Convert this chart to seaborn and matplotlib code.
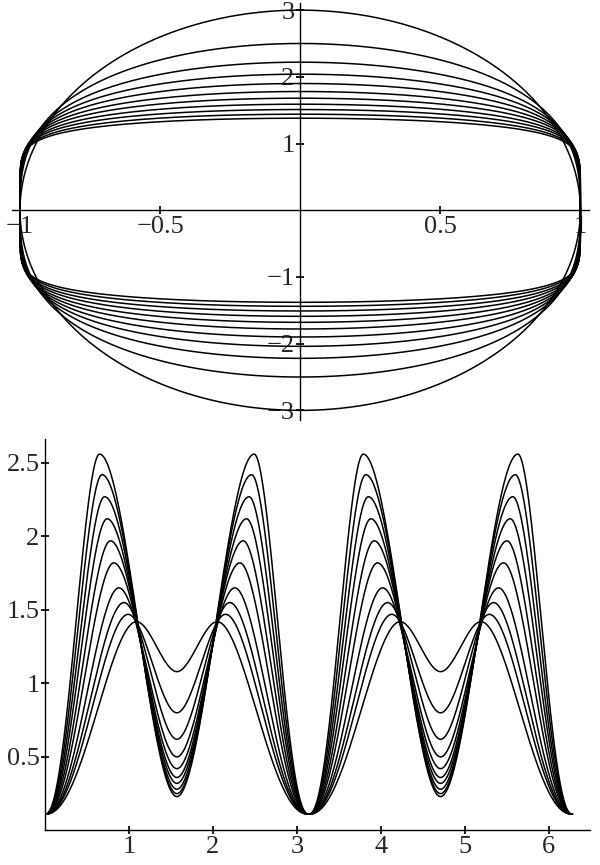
import numpy as np
import matplotlib
matplotlib.use("Agg")
import matplotlib.pyplot as plt
import seaborn as sns
import pandas as pd

# top: closed curves, half-heights and squareness exponent
top_heights = [3.0, 2.5, 2.22, 2.04, 1.9, 1.78, 1.68, 1.59, 1.51, 1.44, 1.38]
top_exps = [1.0, 0.72, 0.6, 0.52, 0.46, 0.41, 0.37, 0.34, 0.31, 0.29, 0.27]
# bottom: periodic curves; start value, peak position, peak height, middle value
start_val = 0.11
peak_t = [0.65, 0.68, 0.71, 0.74, 0.78, 0.82, 0.88, 0.94, 0.99, 1.09]
peak_h = [2.56, 2.42, 2.27, 2.12, 1.97, 1.82, 1.65, 1.55, 1.47, 1.42]
mid_h = [0.23, 0.25, 0.28, 0.32, 0.36, 0.42, 0.50, 0.62, 0.80, 1.08]

sns.set_theme(style="white")
plt.rcParams['font.family'] = ['Liberation Serif', 'DejaVu Serif']

fig = plt.figure(figsize=(6, 8.65), dpi=100)
ax1 = fig.add_axes([0.0193, 0.514, 0.962, 0.482])
ax2 = fig.add_axes([0.075, 0.04, 0.908, 0.452])

t = np.linspace(0, 2*np.pi, 1200)
rows = []
for k, (h, q) in enumerate(zip(top_heights, top_exps)):
    s = np.sin(t)
    y = h*np.sign(s)*np.abs(s)**q
    rows.append(pd.DataFrame({"x": np.cos(t), "y": y, "c": k}))
dtop = pd.concat(rows)
sns.lineplot(data=dtop, x="x", y="y", units="c", estimator=None, sort=False,
             color="black", lw=1.1, ax=ax1)
ax1.set_xlim(-1.03, 1.03); ax1.set_ylim(-3.15, 3.1)
for sp in ["top", "right"]:
    ax1.spines[sp].set_visible(False)
ax1.spines["left"].set_position(("data", 0))
ax1.spines["bottom"].set_position(("data", 0))
for sp in ["left", "bottom"]:
    ax1.spines[sp].set_color("black"); ax1.spines[sp].set_linewidth(1)
ax1.set_xticks([-1, -0.5, 0.5, 1]); ax1.set_xticklabels(["−1", "−0.5", "0.5", "1"])
ax1.set_yticks([-3, -2, -1, 1, 2, 3]); ax1.set_yticklabels(["−3", "−2", "−1", "1", "2", "3"])
ax1.tick_params(direction="inout", length=6, color="black", pad=1, bottom=True, left=True,
                labelsize=19)
ax1.set_xlabel(""); ax1.set_ylabel("")

def ease(x, x0, x1, y0, y1, power):
    u = np.clip((x - x0)/(x1 - x0), 0, 1)**power
    return y0 + (y1 - y0)*(3*u**2 - 2*u**3)

tt = np.linspace(0, 2*np.pi, 2000)
rows = []
for k, (p, P, m) in enumerate(zip(peak_t, peak_h, mid_h)):
    r = np.mod(tt, np.pi)
    r = np.where(r > np.pi/2, np.pi - r, r)
    f = np.where(r < p, ease(r, 0, p, start_val, P, 1.15), ease(r, p, np.pi/2, P, m, 1.0))
    rows.append(pd.DataFrame({"t": tt, "f": f, "c": k}))
dbot = pd.concat(rows)
sns.lineplot(data=dbot, x="t", y="f", units="c", estimator=None,
             color="black", lw=1.1, ax=ax2)
ax2.set_xlim(0, 6.49); ax2.set_ylim(0, 2.66)
for sp in ["top", "right"]:
    ax2.spines[sp].set_visible(False)
for sp in ["left", "bottom"]:
    ax2.spines[sp].set_color("black"); ax2.spines[sp].set_linewidth(1)
ax2.set_xticks([1, 2, 3, 4, 5, 6]); ax2.set_yticks([0.5, 1, 1.5, 2, 2.5])
ax2.set_yticklabels(["0.5", "1", "1.5", "2", "2.5"])
ax2.tick_params(direction="inout", length=6, color="black", pad=1, bottom=True, left=True,
                labelsize=19)
ax2.set_xlabel(""); ax2.set_ylabel("")

fig.savefig("out.png", dpi=100)
